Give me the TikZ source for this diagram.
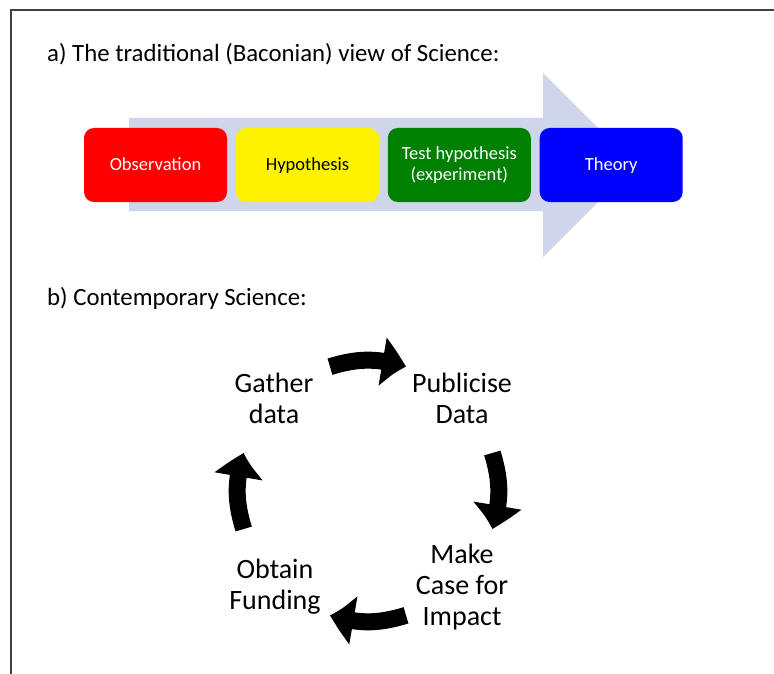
\documentclass[tikz,border=0pt]{standalone}
\usepackage{fontspec}
\setmainfont{Carlito}
\usetikzlibrary{arrows.meta,bending,calc,positioning}

\definecolor{arrowbg}{RGB}{207,213,234}
\definecolor{testgreen}{RGB}{0,128,0}

% fixed height/depth for the first and last line of a box
\newcommand{\boxstrut}{\rule[-3pt]{0pt}{17pt}}

\tikzset{
  heading/.style={anchor=base west, inner sep=0pt, font=\fontsize{24.8}{30}\selectfont},
  stage/.style={rounded corners=10pt, minimum width=143pt, minimum height=74pt,
    inner sep=0pt, align=center, font=\fontsize{18.5}{21.5}\selectfont,
    execute at begin node=\boxstrut, execute at end node=\boxstrut},
  cyclelabel/.style={align=center, inner sep=0pt, font=\fontsize{28}{31}\selectfont},
  cyclearrow/.style={line width=17pt, -{Triangle[width=46pt,length=25pt,bend]}},
}

\begin{document}
\begin{tikzpicture}[x=1pt,y=-1pt]
  \useasboundingbox (0,0) rectangle (774,674);
  % frame lines
  \draw[black!75, line width=1.2pt] (774,10) -- (11,10) -- (11,674);

  % a) the linear view
  \node[heading] (ta) at (47,62) {a) The traditional (Baconian) view of Science:};
  \fill[arrowbg] (129,118) -- (543,118) -- (543,73) -- (635,165)
    -- (543,257) -- (543,211) -- (129,211) -- cycle;
  \node[stage, fill=red, text=white] (obs) at (155.5,165) {Observation};
  \node[stage, fill=yellow, right=8.5pt of obs] (hyp) {Hypothesis};
  \node[stage, fill=testgreen, text=white, right=8.5pt of hyp] (test) {Test hypothesis\\(experiment)};
  \node[stage, fill=blue, text=white, right=8.5pt of test] (theory) {Theory};

  % b) the cycle
  \node[heading] (tb) at (47,305) {b) Contemporary Science:};
  \node[cyclelabel] (gather) at (274,398) {Gather\\data};
  \node[cyclelabel] (publicise) at (462,398) {Publicise\\Data};
  \node[cyclelabel] (impact) at (462,587) {Make\\Case for\\Impact};
  \node[cyclelabel] (funding) at (275,587) {Obtain\\Funding};

  \coordinate (hub) at (368,491);
  \foreach \a in {270,0,90,180}
    \draw[cyclearrow] ($(hub)+(\a-17:130)$) to[bend left=17] ($(hub)+(\a+17:130)$);
\end{tikzpicture}
\end{document}
